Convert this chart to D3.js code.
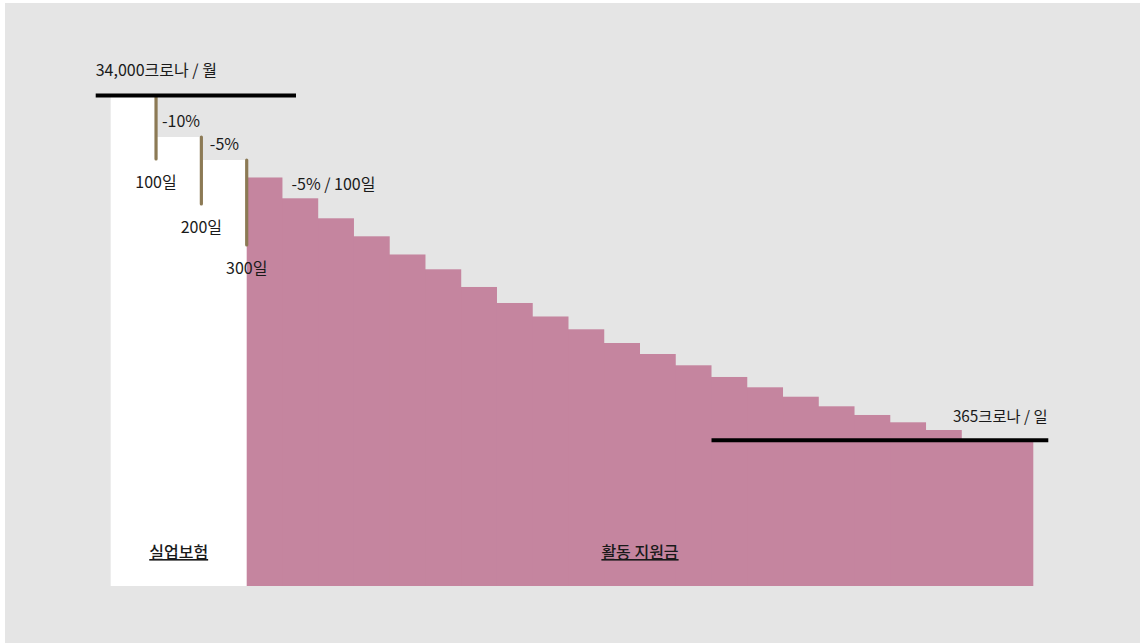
<!DOCTYPE html>
<html>
<head>
<meta charset="utf-8">
<script src="https://cdn.jsdelivr.net/npm/d3@7"></script>
<style>
  html, body { margin: 0; padding: 0; background: #ffffff; }
  svg { display: block; }
  text { font-family: "Noto Sans CJK KR", "Noto Sans", sans-serif; fill: #1a1a1a; }
</style>
</head>
<body>
<svg id="chart" width="1144" height="643"></svg>
<script>
// ---------- data ----------
// Unemployment insurance (실업보험) steps: day ranges and relative benefit level (start = 100)
const insuranceStart = [0, 100, 200];
const insuranceEnd   = [100, 200, 300];
const insuranceLevel = [100, 91.45, 86.76];
const insuranceDropLabels = ["-10%", "-5%"];
const markerDays   = [100, 200, 300];
const markerLabels = ["100일", "200일", "300일"];

// Activity support (활동 지원금): successive 100-day steps, relative level
const supportSteps = d3.range(1, 23).map(String);
const supportLevel = [83.2, 78.96, 74.89, 71.22, 67.52, 64.50, 60.90, 57.64, 54.89, 52.28,
                      49.49, 47.25, 44.95, 42.57, 40.47, 38.55, 36.60, 34.83, 33.34, 31.77,
                      29.74, 29.74];
const floorLevel = 29.74;

const topLabel = "34,000크로나 / 월";
const floorLabel = "365크로나 / 일";
const stepLabel = "-5% / 100일";
const categoryLabels = ["실업보험", "활동 지원금"];

// ---------- layout ----------
const svg = d3.select("#chart");
const C = { bg: "#e5e5e5", pink: "#c5859f", brown: "#8c7a55", black: "#000000" };
const FS = 16;

svg.append("rect").attr("x", 5).attr("y", 3).attr("width", 1135).attr("height", 640).attr("fill", C.bg);

const y = d3.scaleLinear().domain([0, 100]).range([586, 95]);
const xIns = d3.scaleLinear().domain([0, 300]).range([110.7, 246.7]);
const xSup = d3.scaleBand().domain(supportSteps).range([246.7, 1033.3]).padding(0);

// insurance white steps
svg.append("g").selectAll("rect").data(insuranceLevel).join("rect")
  .attr("x", (d, i) => xIns(insuranceStart[i]))
  .attr("width", (d, i) => xIns(insuranceEnd[i]) - xIns(insuranceStart[i]) + 1)
  .attr("y", d => y(d))
  .attr("height", d => y(0) - y(d))
  .attr("fill", "#ffffff");

// support pink steps: drawn last-to-first, each extended slightly to the left
// (hidden under the taller previous step) so no seams appear
const supIdx = d3.range(supportLevel.length).reverse();
svg.append("g").selectAll("rect").data(supIdx).join("rect")
  .attr("x", i => xSup(supportSteps[i]) - (i > 0 ? 1.5 : 0))
  .attr("width", i => xSup.bandwidth() + (i > 0 ? 1.5 : 0))
  .attr("y", i => y(supportLevel[i]))
  .attr("height", i => y(0) - y(supportLevel[i]))
  .attr("fill", C.pink);

// brown day markers
const markerLen = [64, 67, 85];
const mk = svg.append("g");
markerDays.forEach((d, i) => {
  const x = xIns(d);
  const top = y(insuranceLevel[i]);
  mk.append("line")
    .attr("x1", x).attr("x2", x)
    .attr("y1", top + (i === 0 ? 1.5 : 0)).attr("y2", top + markerLen[i])
    .attr("stroke", C.brown).attr("stroke-width", 3.2).attr("stroke-linecap", "round");
  mk.append("text")
    .attr("x", x).attr("y", top + markerLen[i] + 29)
    .attr("text-anchor", "middle").attr("font-size", FS)
    .text(markerLabels[i]);
});

// drop labels
svg.append("text").attr("x", xIns(100) + 6).attr("y", y(insuranceLevel[0]) + 31.5)
  .attr("font-size", FS).text(insuranceDropLabels[0]);
svg.append("text").attr("x", xIns(200) + 8.5).attr("y", y(insuranceLevel[1]) + 13.5)
  .attr("font-size", FS).text(insuranceDropLabels[1]);
svg.append("text").attr("x", xSup(supportSteps[1]) + 9).attr("y", y(supportLevel[0]) + 12.5)
  .attr("font-size", FS).text(stepLabel);

// black reference lines
svg.append("line").attr("x1", 95.7).attr("x2", 296).attr("y1", y(100) + 0.5).attr("y2", y(100) + 0.5)
  .attr("stroke", C.black).attr("stroke-width", 4);
svg.append("line").attr("x1", xSup(supportSteps[13])).attr("x2", 1048.3)
  .attr("y1", y(floorLevel) + 0.3).attr("y2", y(floorLevel) + 0.3)
  .attr("stroke", C.black).attr("stroke-width", 4);

svg.append("text").attr("x", 95.7).attr("y", 76).attr("font-size", FS).text(topLabel);
svg.append("text").attr("x", 1047.5).attr("y", 421.7).attr("text-anchor", "end")
  .attr("font-size", 15.3).text(floorLabel);

// category labels (underlined)
const catX = [(xIns(0) + xIns(300)) / 2, (xSup.range()[0] + xSup.range()[1]) / 2];
svg.append("g").selectAll("text").data(categoryLabels).join("text")
  .attr("x", (d, i) => catX[i]).attr("y", 558)
  .attr("text-anchor", "middle").attr("font-size", FS).attr("font-weight", 500)
  .style("text-decoration", "underline")
  .text(d => d);
</script>
</body>
</html>
